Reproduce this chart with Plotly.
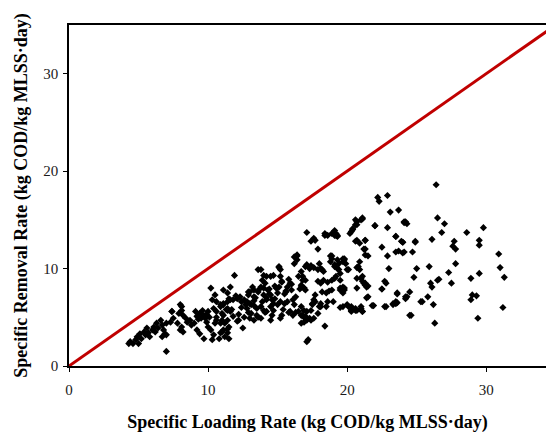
import plotly.graph_objects as go

# Specific loading rate (x) and specific removal rate (y), kg COD/kg MLSS·day
loading = [
    26.4, 26.5, 27.0, 26.8, 24.1, 28.6, 29.8, 26.1, 24.0, 24.9, 24.1, 24.7, 27.6, 27.7, 27.8,
    29.5, 29.5, 30.9, 31.0, 31.3, 27.8, 27.3, 25.0, 25.9, 24.8, 26.6, 26.5, 27.5, 26.0, 26.1,
    28.9, 29.5, 29.0, 29.3, 28.9, 24.5, 24.2, 25.8, 25.4, 26.2, 31.2, 24.6, 26.3, 29.4,
    22.2, 22.3, 22.9, 23.1, 23.7, 21.1, 21.0, 20.7, 20.6, 20.4, 20.2, 22.0, 22.9, 24.1,
    17.1, 18.4, 18.6, 18.9, 19.1, 19.2, 17.6, 17.4, 17.7, 17.9, 20.6, 20.9, 21.3, 21.2,
    21.3, 22.5, 22.9, 23.5, 23.7, 24.0, 23.5, 24.0, 18.9, 19.8, 19.7, 19.4, 18.8, 19.1,
    19.3, 19.5, 20.9, 20.1, 20.7, 20.9, 23.0, 17.0, 17.3, 17.6, 17.9, 18.1, 18.2, 16.8,
    17.0, 17.9, 18.1, 18.3, 18.6, 18.9, 19.1, 21.0, 21.1, 21.3, 21.5, 20.7, 19.7, 19.5,
    19.8, 22.7, 22.5, 23.6, 24.3, 21.5, 16.7, 16.9, 17.0, 18.2, 18.5, 18.7, 18.9, 17.7,
    17.6, 17.5, 18.1, 18.0, 19.0, 19.5, 20.1, 20.3, 20.6, 21.0, 21.1, 21.9, 22.8, 23.3,
    23.5, 24.5, 16.7, 16.9, 17.1, 17.4, 16.8, 17.0, 17.3, 16.7, 16.9, 17.1, 17.4, 17.6,
    18.4, 17.1,
    11.9, 13.6, 15.1, 15.2, 14.7, 14.5, 14.2, 16.4, 16.4, 16.2, 17.1, 17.4, 18.0, 18.3,
    16.7, 16.5, 16.8, 16.7, 16.9, 15.8, 15.9, 15.7, 15.2, 15.3, 15.1, 14.9, 14.0, 13.9,
    14.1, 13.8, 14.0, 14.3, 13.2, 13.3, 13.0, 12.9, 13.3, 12.3, 12.1, 11.8, 11.6, 11.4,
    11.1, 10.9, 12.6, 12.8, 12.7, 13.0, 13.3, 13.5, 13.8, 14.0, 14.2, 14.5, 14.6, 14.7,
    15.0, 15.2, 15.5, 15.7, 16.1, 16.2, 16.3, 14.0, 14.2, 14.5, 14.7, 13.5, 13.8, 13.3,
    13.0, 14.5, 15.2, 15.3, 15.9, 16.1, 16.3, 16.5, 16.7, 16.9, 17.1, 17.9, 18.1, 17.7,
    17.5, 18.6, 18.5, 11.4, 11.6, 11.1, 11.4, 11.8, 12.2, 12.5, 11.4, 11.2, 11.5, 10.9,
    11.0, 17.2,
    10.2, 10.5, 10.3, 10.6, 10.9, 11.1, 11.4, 11.0, 10.6, 10.4, 8.0, 8.1, 8.2, 7.9,
    8.4, 8.5, 8.7, 9.0, 9.2, 9.4, 9.6, 9.7, 9.8, 9.9, 10.0, 9.1, 7.4, 7.3, 7.5, 7.0,
    7.8, 6.6, 6.3, 6.7, 6.4, 6.1, 6.0, 6.2, 5.6, 5.4, 5.1, 5.5, 5.7, 4.9, 5.2, 5.8,
    6.8, 6.9, 6.7, 7.0, 4.4, 4.6, 4.8, 4.3, 5.0, 7.0, 8.0, 8.1, 8.2, 9.2, 9.4, 9.7,
    10.3, 10.4, 10.8, 10.9, 11.1, 11.4, 11.5, 11.2, 11.0, 10.0, 10.2, 10.5, 10.6, 11.4,
    11.1, 11.5, 11.6,
    13.8, 15.1, 16.2, 16.4, 18.4, 19.1, 19.3, 18.8, 19.8, 19.9, 19.2, 19.1, 19.3, 20.6,
    20.7, 20.4, 21.1, 20.3, 22.0, 24.2, 24.3, 23.5, 23.9, 24.9, 20.7, 21.3, 21.3, 21.5,
    18.9, 19.3, 19.7, 19.1, 19.4, 20.0, 20.8, 19.2, 19.5, 20.7, 21.1, 21.2, 21.3, 21.4,
    22.8, 22.5, 23.6, 23.5, 23.3, 23.6, 24.2, 25.3, 21.4, 21.8, 22.7, 20.0, 20.3, 20.7,
    21.1, 21.0, 20.3, 20.6, 19.7, 19.5, 19.8, 19.7, 8.1, 7.4,
    12.0, 12.4, 12.9, 13.4, 13.7, 14.4, 14.8, 15.6, 16.0, 12.2, 12.6, 13.1, 13.6, 14.1,
    14.6, 15.4, 15.8, 9.5, 9.9, 10.6, 11.3, 12.1, 12.8, 13.3, 14.2, 15.0, 15.6, 16.6,
    12.4, 13.1, 13.9, 14.8, 15.5, 16.0, 11.7, 12.9, 13.6, 14.4, 15.3, 8.8, 9.3, 10.1,
]
removal = [
    18.6, 15.2, 14.6, 13.7, 14.8, 13.7, 14.2, 13.0, 12.7, 12.7, 11.7, 11.7, 12.3, 12.8, 12.0,
    12.9, 12.4, 11.5, 10.1, 9.1, 10.5, 9.6, 10.0, 10.2, 9.1, 8.9, 8.8, 8.5, 8.5, 8.1,
    9.0, 9.5, 7.3, 7.2, 6.8, 7.6, 7.1, 7.1, 6.6, 6.3, 6.0, 5.2, 4.4, 4.9,
    17.3, 16.9, 17.5, 15.8, 16.0, 15.2, 15.0, 14.8, 14.5, 14.0, 13.6, 14.4, 14.2, 14.7,
    13.7, 13.6, 13.4, 13.6, 13.9, 13.4, 13.1, 12.8, 12.9, 12.0, 12.8, 12.6, 12.9, 12.0,
    11.4, 12.2, 11.3, 11.7, 11.8, 11.6, 13.3, 12.7, 11.3, 11.0, 10.7, 10.5, 10.7, 10.4,
    10.0, 9.5, 10.7, 9.9, 10.1, 9.9, 10.0, 10.2, 10.0, 10.1, 9.9, 10.0, 9.9, 9.2,
    8.8, 8.7, 8.5, 8.8, 8.6, 8.8, 9.0, 9.0, 8.7, 8.5, 8.2, 8.0, 8.1, 7.8,
    8.0, 8.7, 7.9, 7.5, 7.1, 7.1, 8.1, 8.0, 7.8, 7.6, 7.5, 7.7, 7.8, 7.3,
    6.8, 6.4, 6.4, 6.1, 6.6, 6.0, 6.1, 5.7, 5.7, 5.9, 5.6, 6.2, 6.1, 6.3,
    6.4, 5.2, 6.1, 5.7, 5.6, 5.7, 5.2, 5.1, 4.9, 4.4, 4.5, 4.7, 4.7, 4.9,
    4.1, 2.5,
    9.3, 9.9, 10.2, 9.9, 9.3, 9.2, 9.2, 11.3, 10.9, 10.5, 10.4, 10.3, 10.5, 9.7,
    9.7, 9.2, 8.8, 8.3, 8.0, 8.9, 8.5, 8.1, 9.2, 8.7, 8.1, 8.0, 9.3, 8.8,
    8.5, 8.1, 8.0, 7.8, 8.1, 7.8, 7.6, 7.3, 7.1, 7.1, 6.9, 6.8, 6.8, 6.6,
    6.4, 6.3, 6.8, 6.6, 6.3, 6.4, 6.2, 5.9, 6.1, 7.3, 7.0, 7.3, 6.8, 6.4,
    6.3, 6.6, 6.4, 6.6, 6.8, 6.3, 7.1, 5.7, 5.6, 6.1, 5.7, 5.2, 4.9, 4.7,
    4.9, 4.7, 4.9, 5.2, 5.6, 5.2, 5.5, 5.6, 5.2, 5.0, 4.8, 5.4, 6.1, 6.6,
    6.3, 6.6, 6.1, 5.9, 5.6, 5.2, 4.7, 5.1, 4.7, 3.9, 3.8, 3.0, 2.8, 4.4,
    3.5, 2.7,
    8.0, 7.3, 6.8, 6.6, 6.1, 6.3, 5.7, 5.4, 5.6, 5.9, 6.3, 5.7, 5.2, 5.4,
    4.9, 4.5, 4.7, 4.4, 5.1, 5.4, 5.7, 5.2, 4.9, 4.5, 5.6, 5.6, 5.6, 4.5, 4.9, 4.4,
    4.4, 4.7, 4.4, 4.2, 3.9, 4.0, 3.7, 3.5, 3.9, 3.5, 3.3, 3.2, 3.4, 3.0, 2.8, 3.0,
    3.7, 3.3, 3.0, 3.2, 2.5, 2.3, 2.7, 2.3, 2.3, 1.5, 3.7, 4.0, 3.5, 3.7, 3.3, 2.8,
    2.7, 3.2, 2.8, 3.4, 3.7, 3.4, 4.0, 4.4, 4.7, 4.0, 3.7, 4.4, 4.7, 7.5,
    7.8, 6.9, 8.1,
    9.9, 10.1, 11.2, 11.4, 13.4, 13.6, 13.3, 11.3, 10.9, 10.5, 13.6, 13.4, 13.4, 15.0,
    14.5, 14.1, 15.1, 13.8, 14.4, 14.8, 14.6, 13.3, 12.8, 12.8, 12.9, 12.9, 12.0, 11.3,
    11.0, 10.9, 11.0, 10.2, 9.9, 9.9, 10.2, 9.2, 8.8, 9.0, 9.2, 8.5, 8.3, 8.1,
    8.5, 7.9, 7.4, 6.6, 6.4, 6.5, 6.9, 6.6, 7.0, 6.2, 6.1, 6.3, 6.1, 5.7,
    5.6, 6.1, 5.6, 5.9, 6.1, 8.0, 7.8, 7.5, 6.1, 5.6,
    7.2, 6.6, 7.6, 7.0, 7.9, 7.4, 8.2, 7.6, 8.4, 5.3, 5.0, 5.4, 5.0, 5.5,
    5.2, 5.8, 5.5, 4.9, 5.3, 5.0, 5.8, 4.6, 5.9, 6.7, 6.8, 7.5, 7.7, 7.9,
    6.0, 6.3, 6.6, 6.9, 7.4, 7.8, 5.8, 5.5, 7.6, 7.9, 8.6, 4.2, 4.8, 5.0,
]

line_x = [0, 35]
line_y = [0, 35]

x_ticks = [0, 10, 20, 30]
y_ticks = [0, 10, 20, 30]

serif = "Liberation Serif, Times New Roman, serif"

fig = go.Figure()
fig.add_trace(go.Scatter(
    x=line_x, y=line_y, mode="lines",
    line=dict(color="#c00000", width=3), hoverinfo="skip", showlegend=False,
))
fig.add_trace(go.Scatter(
    x=loading, y=removal, mode="markers",
    marker=dict(symbol="diamond", size=5.5, color="black", line=dict(width=0)),
    showlegend=False,
))

fig.update_layout(
    width=546, height=433,
    margin=dict(l=69, r=0, t=25, b=67),
    paper_bgcolor="white", plot_bgcolor="white",
    font=dict(family=serif, color="#1a1a1a"),
    xaxis=dict(
        range=[0, 34.3], tickvals=x_ticks, ticks="outside", ticklen=4,
        tickcolor="black", showline=True, linecolor="black", linewidth=1.5,
        mirror=True, showgrid=False, zeroline=False, automargin=False,
        ticklabelstandoff=5,
        tickfont=dict(size=15, family=serif, color="#1a1a1a"),
        title=dict(text="<b>Specific Loading Rate (kg COD/kg MLSS·day)</b>",
                   font=dict(size=18, family=serif, color="black"), standoff=20),
    ),
    yaxis=dict(
        range=[0, 35], tickvals=y_ticks, ticks="outside", ticklen=4,
        tickcolor="black", showline=True, linecolor="black", linewidth=1.5,
        showgrid=False, zeroline=False, automargin=False,
        ticklabelstandoff=2,
        tickfont=dict(size=15, family=serif, color="#1a1a1a"),
        title=dict(text="<b>Specific Removal Rate (kg COD/kg MLSS·day)</b>",
                   font=dict(size=18, family=serif, color="black"), standoff=11),
    ),
)

fig.write_html(
    "out.html",
    config={"displayModeBar": False},
    post_script="document.body.style.margin='0';document.body.style.overflow='hidden';",
)
